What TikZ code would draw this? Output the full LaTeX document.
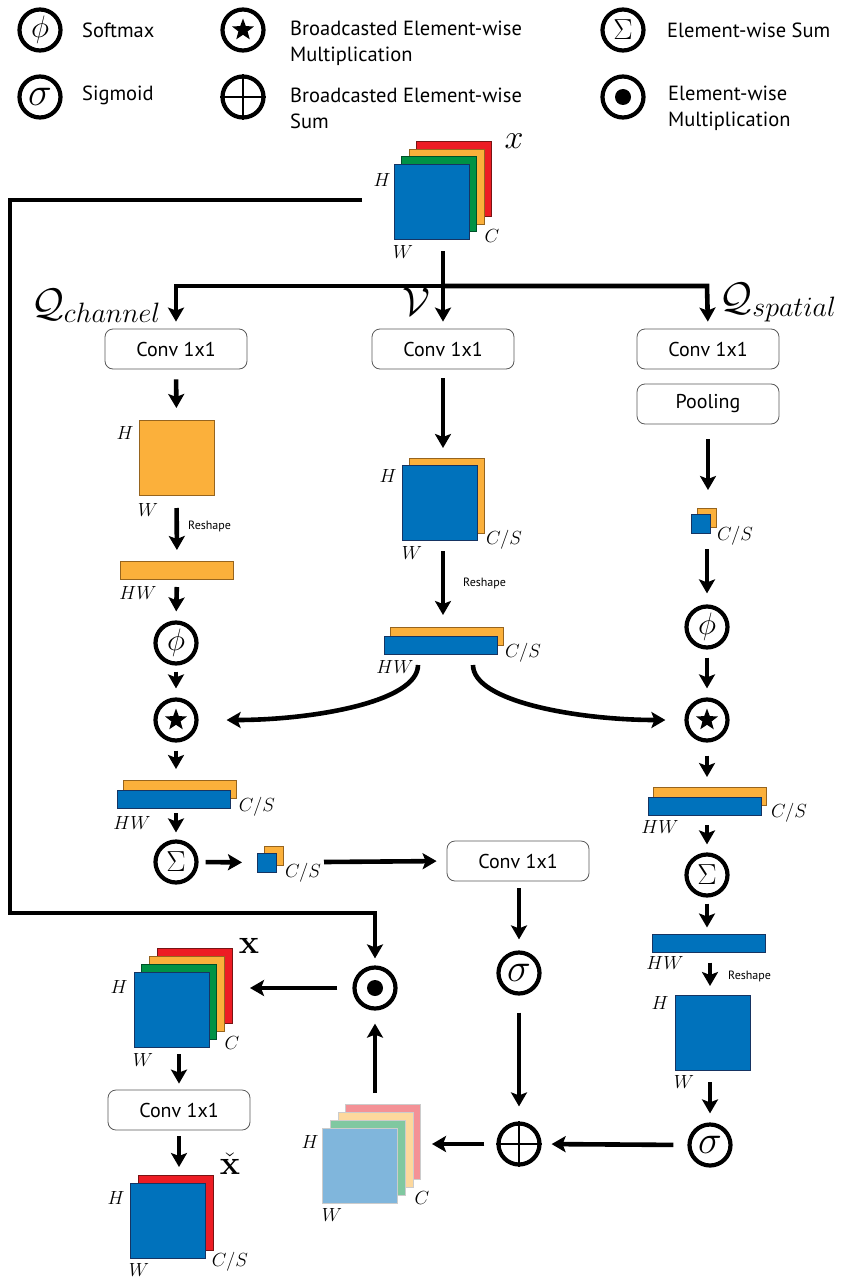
\RequirePackage{fix-cm}
\documentclass[tikz,border=0pt]{standalone}
\usepackage{amsmath}
\usepackage[no-math]{fontspec}
\setmainfont{PT Sans}
\usepackage{xcolor}
\definecolor{ColB}{RGB}{0,114,188}
\definecolor{ColBd}{RGB}{22,52,98}
\definecolor{ColO}{RGB}{251,176,59}
\definecolor{ColOd}{RGB}{150,100,30}
\definecolor{ColG}{RGB}{0,146,69}
\definecolor{ColGd}{RGB}{0,80,40}
\definecolor{ColR}{RGB}{237,28,36}
\definecolor{ColRd}{RGB}{120,20,20}
\definecolor{ColBl}{RGB}{128,182,220}
\definecolor{ColGl}{RGB}{128,200,160}
\definecolor{ColOl}{RGB}{253,216,157}
\definecolor{ColRl}{RGB}{244,145,150}
\usepackage{tikz}
\usetikzlibrary{arrows.meta}
\usetikzlibrary{shapes.geometric}
\tikzstyle{Op}=[circle,draw=black,line width=4.2pt,minimum size=41pt,inner sep=0pt]
\tikzstyle{Box}=[rectangle,rounded corners=8pt,draw=black!65,line width=0.8pt,
minimum width=142pt,minimum height=40pt,font=\fontsize{20}{24}\selectfont]
\tikzstyle{Edge}=[draw=black,line width=4.6pt,-{Stealth[length=14pt,width=16pt,inset=3pt]}]
\tikzstyle{Leg}=[anchor=west,align=left,inner sep=0pt,font=\fontsize{20.5}{26}\selectfont]
\tikzstyle{Dim}=[inner sep=0pt,font=\fontsize{19}{19}\selectfont]
\tikzstyle{Big}=[inner sep=0pt,font=\fontsize{34}{34}\selectfont]
\tikzstyle{Huge}=[inner sep=0pt,font=\fontsize{40}{40}\selectfont]
\tikzstyle{Small}=[anchor=west,inner sep=0pt,font=\fontsize{12}{12}\selectfont]
\tikzstyle{Map}=[rectangle,inner sep=0pt,outer sep=0pt,line width=0.8pt,
minimum width=75pt,minimum height=75pt]
\tikzstyle{Bar}=[Map,minimum width=113pt,minimum height=18pt]
\tikzstyle{Tiny}=[Map,minimum width=19pt,minimum height=19pt]
\tikzstyle{MB}=[fill=ColB,draw=ColBd]
\tikzstyle{MO}=[fill=ColO,draw=ColOd]
\tikzstyle{MG}=[fill=ColG,draw=ColGd]
\tikzstyle{MR}=[fill=ColR,draw=ColRd]
\tikzstyle{StarMark}=[star,star points=5,star point ratio=2.4,fill=black,inner sep=0pt,minimum size=23pt]
\tikzstyle{SymPhi}=[font=\fontsize{31}{31}\selectfont]
\tikzstyle{SymSig}=[font=\fontsize{40}{40}\selectfont]
\tikzstyle{SymSum}=[font=\fontsize{29}{29}\selectfont]
\newcommand{\PlusMark}[1]{\draw[line width=1.3pt](#1.north)--(#1.south);
\draw[line width=1.3pt](#1.west)--(#1.east);}
\newcommand{\DotMark}[1]{\fill(#1)circle[radius=8pt];}

\begin{document}
\begin{tikzpicture}[x=1pt,y=-1pt]
        \useasboundingbox(0,0)rectangle(843,1287);
        % legend
        \node[Op,SymPhi](l1)at(40,30){$\phi$};
        \node[Leg](t1)at(82,30){Softmax};
        \node[Op](l2)at(243,30){};
        \node[StarMark](k2)at(l2){};
        \node[Leg](t2)at(290,43){Broadcasted Element-wise\\Multiplication};
        \node[Op,SymSum](l3)at(623,30){$\Sigma$};
        \node[Leg](t3)at(667,30){Element-wise Sum};
        \node[Op,SymSig](l4)at(40,97){$\sigma$};
        \node[Leg](t4)at(82,95){Sigmoid};
        \node[Op](l5)at(243,97){};
        \PlusMark{l5}
        \node[Leg](t5)at(290,108){Broadcasted Element-wise\\Sum};
        \node[Op](l6)at(623,97){};
        \DotMark{l6}
        \node[Leg](t6)at(668,108){Element-wise\\Multiplication};
        % input x
        \node[Map,MR](xr1)at(454,179){};
        \node[Map,MO](xo1)at(446.5,186.5){};
        \node[Map,MG](xg1)at(439,194){};
        \node[Map,MB](xb1)at(431.5,201.5){};
        \node[Big](lx1)at(514,141){$x$};
        \node[Dim](h1)at(382,180){$H$};
        \node[Dim](c1)at(492,236){$C$};
        \node[Dim](w1)at(403,252){$W$};
        % branches
        \coordinate(x0)at(443,251);
        \coordinate(m0)at(443,286);
        \coordinate(bl)at(176,286);
        \coordinate(br)at(707,286);
        \node[Huge](qch)at(96,306){$\mathcal{Q}_{channel}$};
        \node[Huge](qv)at(416,302){$\mathcal{V}$};
        \node[Huge](qsp)at(778,303){$\mathcal{Q}_{spatial}$};
        \node[Box](qc)at(176,349){Conv 1x1};
        \node[Box](vc)at(443,349){Conv 1x1};
        \node[Box](rc)at(708,349){Conv 1x1};
        \node[Box](pool)at(708,404){Pooling};
        \draw[Edge,shorten >=7pt](m0)--(bl)--(qc.north);
        \draw[Edge,shorten >=7pt](m0)--(br)--(rc.north);
        \draw[Edge,shorten >=7pt](x0)--(vc.north);
        \coordinate(f0)at(362,200);
        \coordinate(f1)at(10,200);
        \coordinate(f2)at(10,913);
        \coordinate(f3)at(375,913);
        % channel branch
        \node[Map,MO](oq)at(176.5,457.5){};
        \node[Dim](h2)at(125,433){$H$};
        \node[Dim](w2)at(148,510){$W$};
        \draw[Edge,shorten <=10pt,shorten >=12pt](qc.south)--(oq.north);
        \node[Bar,MO](ob1)at(177,570){};
        \node[Dim](hw1)at(138,593){$HW$};
        \draw[Edge,shorten <=13pt,shorten >=11pt](oq.south)--(ob1.north);
        \node[Small](rs1)at(188,526){Reshape};
        \node[Op,SymPhi](lp)at(176,643){$\phi$};
        \draw[Edge,shorten <=8pt,shorten >=9pt](ob1.south)--(lp.north);
        \node[Op](ls)at(176,720){};
        \node[StarMark](k3)at(ls){};
        \draw[Edge,shorten <=6pt,shorten >=9pt](lp.south)--(ls.north);
        \node[Bar,MO](lob2)at(179.5,789){};
        \node[Bar,MB](lbb2)at(173.5,799){};
        \node[Dim](cs2)at(257,807){$C/S$};
        \node[Dim](hw2)at(132,823){$HW$};
        \draw[Edge,shorten <=8pt,shorten >=11pt](ls.south)--(lob2.north-|ls);
        \node[Op,SymSum](lsg)at(176,862){$\Sigma$};
        \draw[Edge,shorten <=5pt,shorten >=7pt](lbb2.south-|ls)--(lsg.north);
        \node[Tiny,MO](lto)at(273.5,856){};
        \node[Tiny,MB](ltb)at(266.5,862.5){};
        \node[Dim](cs3)at(303,873){$C/S$};
        \draw[Edge,shorten <=7pt,shorten >=15pt](lsg.east)--(ltb.west);
        \node[Box](mc)at(518,861){Conv 1x1};
        \coordinate(a3)at(324,862);
        \draw[Edge,shorten >=10pt](a3)--(mc.west);
        % value branch
        \node[Map,MO](vo)at(447,495.5){};
        \node[Map,MB](vb)at(440,502.5){};
        \node[Dim](h3)at(388,476){$H$};
        \node[Dim](cs4)at(504,540){$C/S$};
        \node[Dim](w3)at(412,553){$W$};
        \draw[Edge,shorten <=9pt,shorten >=10pt](vc.south)--(vo.north-|vc);
        \node[Bar,MO](vob)at(446.5,636){};
        \node[Bar,MB](vbb)at(440.5,645){};
        \node[Dim](cs5)at(523,653){$C/S$};
        \node[Dim](hw3)at(395,667){$HW$};
        \draw[Edge,shorten <=11pt,shorten >=12pt](vb.south-|vc)--(vob.north-|vc);
        \node[Small](rs2)at(463,583){Reshape};
        % spatial branch
        \node[Tiny,MO](rto)at(706.5,517.5){};
        \node[Tiny,MB](rtb)at(700.5,523.5){};
        \node[Dim](cs6)at(735,536){$C/S$};
        \draw[Edge,shorten <=15pt,shorten >=18pt](pool.south)--(rto.north-|pool);
        \node[Op,SymPhi](rp)at(707,627){$\phi$};
        \draw[Edge,shorten <=16pt,shorten >=11pt](rtb.south-|rp)--(rp.north);
        \node[Op](rs)at(707,720){};
        \node[StarMark](k4)at(rs){};
        \draw[Edge,shorten <=8pt,shorten >=9pt](rp.south)--(rs.north);
        \coordinate(c7)at(418,665);
        \coordinate(c8)at(473,665);
        \draw[Edge,shorten >=28pt](c7)..controls(418,702)and(312,720)..(ls.east);
        \draw[Edge,shorten >=19pt](c8)..controls(473,702)and(580,720)..(rs.west);
        \node[Bar,MO](rob2)at(710,796){};
        \node[Bar,MB](rbb2)at(704.5,806){};
        \node[Dim](cs7)at(789,813){$C/S$};
        \node[Dim](hw4)at(660,827){$HW$};
        \draw[Edge,shorten <=13pt,shorten >=10pt](rs.south)--(rob2.north-|rs);
        \node[Op,SymSum](rsg)at(707,875){$\Sigma$};
        \draw[Edge,shorten <=10pt,shorten >=8pt](rbb2.south-|rs)--(rsg.north);
        \node[Bar,MB](rb3)at(708.5,943.5){};
        \node[Dim](hw5)at(665,963){$HW$};
        \draw[Edge,shorten <=6pt,shorten >=7pt](rsg.south)--(rb3.north-|rsg);
        \node[Map,MB](rsq)at(712.5,1032.5){};
        \node[Dim](h4)at(660,1003){$H$};
        \node[Dim](w4)at(684,1082){$W$};
        \node[Small](rs3)at(728,976){Reshape};
        \node[Op,SymSig](sr)at(710,1145){$\sigma$};
        \draw[Edge,shorten <=10pt,shorten >=9pt](rb3.south-|sr)--(rsq.north-|sr);
        \draw[Edge,shorten <=12pt,shorten >=9pt](rsq.south-|sr)--(sr.north);
        % fusion
        \node[Op,SymSig](sg)at(519,973){$\sigma$};
        \draw[Edge,shorten <=7pt,shorten >=11pt](mc.south-|sg)--(sg.north);
        \node[Op](pl)at(519,1144){};
        \PlusMark{pl}
        \draw[Edge,shorten <=17pt,shorten >=15pt](sg.south)--(pl.north);
        \draw[Edge,shorten <=14pt,shorten >=10pt](sr.west)--(pl.east);
        \node[Map,fill=ColRl,draw=black!20](fr)at(382.5,1141.5){};
        \node[Map,fill=ColOl,draw=black!20](fo)at(376,1149.5){};
        \node[Map,fill=ColGl,draw=black!20](fg)at(367.5,1157.5){};
        \node[Map,fill=ColBl,draw=black!20](fb)at(359.5,1165.5){};
        \node[Dim](h5)at(310,1142){$H$};
        \node[Dim](c5)at(422,1198){$C$};
        \node[Dim](w5)at(332,1215){$W$};
        \draw[Edge,shorten <=12pt,shorten >=12pt](pl.west)--(fr.east|-pl);
        \node[Op](od)at(375,988){};
        \DotMark{od}
        \draw[Edge,shorten <=11pt,shorten >=13pt](fr.north-|od)--(od.south);
        \draw[Edge,shorten >=7pt](f0)--(f1)--(f2)--(f3)--(od.north);
        % output x
        \node[Map,MR](xr)at(194.5,985.5){};
        \node[Map,MO](xo)at(186.5,993.5){};
        \node[Map,MG](xg)at(178.5,1001.5){};
        \node[Map,MB](xb)at(171.5,1009.5){};
        \node[Big](lx2)at(249,946){$\mathbf{x}$};
        \node[Dim](h6)at(119,987){$H$};
        \node[Dim](c6)at(232,1043){$C$};
        \node[Dim](w6)at(143,1060){$W$};
        \draw[Edge,shorten <=15pt,shorten >=18pt](od.west)--(xr.east|-od);
        \node[Box](bc)at(179,1110){Conv 1x1};
        \draw[Edge,shorten <=7pt,shorten >=6pt](xb.south-|bc)--(bc.north);
        \node[Map,MR](cr)at(176,1212.5){};
        \node[Map,MB](cb)at(167.5,1220.5){};
        \node[Big](lx3)at(230,1164){$\check{\mathbf{x}}$};
        \node[Dim](h7)at(116,1198){$H$};
        \node[Dim](w7)at(139,1270){$W$};
        \node[Dim](cs8)at(230,1262){$C/S$};
        \draw[Edge,shorten <=6pt,shorten >=8pt](bc.south)--(cr.north-|bc);
    \end{tikzpicture}
\end{document}
